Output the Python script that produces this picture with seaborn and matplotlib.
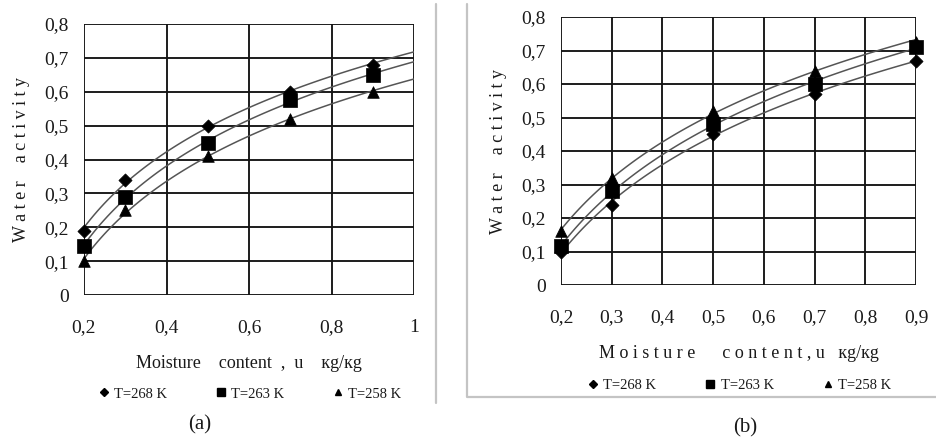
import numpy as np
import pandas as pd
import matplotlib.pyplot as plt
import seaborn as sns
from matplotlib.lines import Line2D

# --- data ---
temps = ["T=268 K", "T=263 K", "T=258 K"]
markers = {"T=268 K": "D", "T=263 K": "s", "T=258 K": "^"}
msizes = {"T=268 K": 45, "T=263 K": 90, "T=258 K": 70}

u_a = [0.2, 0.3, 0.5, 0.7, 0.9]
aw_a_268 = [0.19, 0.34, 0.50, 0.60, 0.68]
aw_a_263 = [0.145, 0.29, 0.45, 0.575, 0.65]
aw_a_258 = [0.10, 0.25, 0.41, 0.52, 0.60]

u_b = [0.2, 0.3, 0.5, 0.7, 0.9]
aw_b_268 = [0.10, 0.24, 0.45, 0.57, 0.67]
aw_b_263 = [0.115, 0.28, 0.48, 0.60, 0.71]
aw_b_258 = [0.16, 0.32, 0.52, 0.64, 0.725]

yticks = [0, 0.1, 0.2, 0.3, 0.4, 0.5, 0.6, 0.7, 0.8]
xticks_a = [0.2, 0.4, 0.6, 0.8, 1.0]
xticks_b = [0.2, 0.3, 0.4, 0.5, 0.6, 0.7, 0.8, 0.9]


def comma(v):
    s = f"{v:g}"
    return s.replace(".", ",")


def long_df(u, series):
    rows = []
    for t, vals in zip(temps, series):
        for x, y in zip(u, vals):
            rows.append({"u": x, "aw": y, "T": t})
    return pd.DataFrame(rows)


df_a = long_df(u_a, [aw_a_268, aw_a_263, aw_a_258])
df_b = long_df(u_b, [aw_b_268, aw_b_263, aw_b_258])

sns.set_style("white")
plt.rcParams["font.family"] = ["Liberation Serif", "DejaVu Serif"]
TXT = "#1a1a1a"

fig = plt.figure(figsize=(9.36, 4.43), dpi=100)
ax_a = fig.add_axes([84 / 936, 1 - 295 / 443, 330 / 936, 271 / 443])
ax_b = fig.add_axes([561 / 936, 1 - 285 / 443, 355 / 936, 268 / 443])


def draw_panel(ax, df, xticks, xlim, truncate, xlabel, ylabel, leg_y):
    ax.set_xlim(*xlim)
    ax.set_ylim(0, 0.8)
    ax.set_axisbelow(True)
    ax.grid(True, color="#141414", lw=1.35)
    # logarithmic trend lines, as in the spreadsheet original
    for t in temps:
        sub = df[df["T"] == t]
        sns.regplot(data=sub, x="u", y="aw", ax=ax, scatter=False, ci=None,
                    logx=True, truncate=truncate,
                    line_kws=dict(color="#555555", lw=1.1))
    for t in temps:
        sub = df[df["T"] == t]
        sns.scatterplot(data=sub, x="u", y="aw", ax=ax, marker=markers[t],
                        s=msizes[t], color="black", edgecolor="black",
                        linewidth=0.5, zorder=5, clip_on=False)
    ax.set_xlim(*xlim)
    ax.set_ylim(0, 0.8)
    ax.set_xticks(xticks)
    ax.set_xticklabels([comma(v) for v in xticks])
    ax.set_yticks(yticks)
    ax.set_yticklabels([comma(v) for v in yticks])
    ax.tick_params(axis="both", length=5, width=1.35, color="#141414",
                   labelsize=14, labelcolor=TXT, pad=6)
    ax.tick_params(axis="x", pad=12)
    for s in ax.spines.values():
        s.set_visible(False)
    ax.set_xlabel(xlabel, fontsize=13, color=TXT, labelpad=14)
    ax.set_ylabel(ylabel, fontsize=13, color=TXT, labelpad=10)
    handles = [Line2D([], [], ls="none", marker=markers[t], color="black",
                      markersize={"T=268 K": 4, "T=263 K": 6, "T=258 K": 5}[t])
               for t in temps]
    ax.legend(handles, temps, loc="center", bbox_to_anchor=(0.5, leg_y), ncol=3,
              frameon=False, fontsize=10.5, handletextpad=0.2, columnspacing=3.2,
              handlelength=1.0, labelcolor=TXT)


draw_panel(ax_a, df_a, xticks_a, (0.2, 1.0), False,
           "Moisture    content  ,  u    кg/кg", "W a t e r    a c t i v i t y", -0.365)
draw_panel(ax_b, df_b, xticks_b, (0.2, 0.9), True,
           "M o i s t u r e      c o n t e n t , u   кg/кg",
           "W a t e r    a c t i v i t y", -0.375)

# panel separators / frame
fig.add_artist(Line2D([436 / 936] * 2, [1 - 4 / 443, 1 - 403 / 443],
                      color="#c4c4c4", lw=1.6))
fig.add_artist(Line2D([467 / 936, 467 / 936, 1.0],
                      [1 - 4 / 443, 1 - 397 / 443, 1 - 397 / 443],
                      color="#c4c4c4", lw=1.6))

fig.text(200 / 936, 1 - 425 / 443, "(a)", ha="center", va="center", fontsize=15, color=TXT)
fig.text(745 / 936, 1 - 428 / 443, "(b)", ha="center", va="center", fontsize=15, color=TXT)

fig.savefig("out.png", dpi=100)
